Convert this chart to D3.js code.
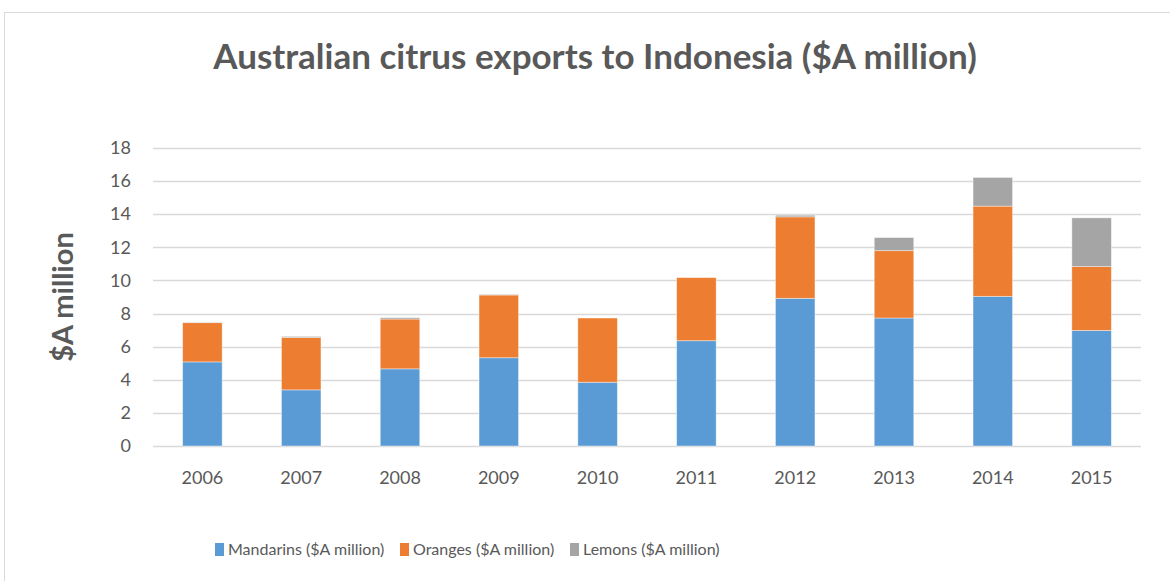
<!DOCTYPE html>
<html>
<head>
<meta charset="utf-8">
<script src="https://cdn.jsdelivr.net/npm/d3@7"></script>
<style>
  body { margin: 0; background: #fff; }
  text { font-family: "Lato", "Open Sans", sans-serif; fill: #595959; }
</style>
</head>
<body>
<script>
// data
var years = ["2006", "2007", "2008", "2009", "2010", "2011", "2012", "2013", "2014", "2015"];
var mandarins = [5.08, 3.39, 4.66, 5.33, 3.85, 6.36, 8.92, 7.73, 9.04, 6.98];
var oranges = [2.37, 3.17, 3.01, 3.79, 3.88, 3.81, 4.92, 4.07, 5.45, 3.86];
var lemons = [0.02, 0.06, 0.08, 0.04, 0.0, 0.0, 0.1, 0.79, 1.73, 2.94];
var seriesNames = ["Mandarins ($A million)", "Oranges ($A million)", "Lemons ($A million)"];
var colors = ["#5b9bd5", "#ed7d31", "#a5a5a5"];
var yTicks = [0, 2, 4, 6, 8, 10, 12, 14, 16, 18];

var W = 1170, H = 581;
var svg = d3.select("body").append("svg")
    .attr("width", W)
    .attr("height", H);

// outer chart border
svg.append("rect")
    .attr("x", 4.5).attr("y", 12.5)
    .attr("width", W).attr("height", H)
    .style("fill", "#fff")
    .style("stroke", "#d9d9d9");

var plotLeft = 153, plotRight = 1141, plotTop = 148, plotBottom = 446;

var x = d3.scaleBand().domain(years).range([plotLeft, plotRight]).paddingInner(0.6).paddingOuter(0.3);
var y = d3.scaleLinear().domain([0, 18]).range([plotBottom, plotTop]);

// gridlines
svg.append("g")
    .selectAll("line")
    .data(yTicks)
    .enter().append("line")
    .attr("x1", plotLeft).attr("x2", plotRight)
    .attr("y1", function (d) { return Math.round(y(d)) + 0.5; })
    .attr("y2", function (d) { return Math.round(y(d)) + 0.5; })
    .style("stroke", "#d9d9d9")
    .style("stroke-width", 1.3);

// stacked bars
var rows = years.map(function (yr, i) {
    return { year: yr, m: mandarins[i], o: oranges[i], l: lemons[i] };
});
var stack = d3.stack().keys(["m", "o", "l"]);
var layers = stack(rows);

svg.append("g")
    .selectAll("g")
    .data(layers)
    .enter().append("g")
    .style("fill", function (d, i) { return colors[i]; })
    .selectAll("rect")
    .data(function (d) { return d; })
    .enter().append("rect")
    .attr("x", function (d) { return x(d.data.year); })
    .attr("width", x.bandwidth())
    .attr("y", function (d) { return y(d[1]); })
    .attr("height", function (d) { return Math.max(0, y(d[0]) - y(d[1])); })
    .style("stroke", "#ffffff")
    .style("stroke-opacity", 0.5)
    .style("stroke-width", 0.8);

// y axis labels
var yAxis = svg.append("g")
    .attr("transform", "translate(" + plotLeft + ",0)")
    .call(d3.axisLeft(y).tickValues(yTicks).tickSize(0).tickPadding(22));
yAxis.select(".domain").remove();
yAxis.selectAll("text")
    .style("font-size", "18px")
    .style("fill", "#595959")
    .style("font-family", "Lato, sans-serif");

// x axis labels
var xAxis = svg.append("g")
    .attr("transform", "translate(0," + plotBottom + ")")
    .call(d3.axisBottom(x).tickSize(0).tickPadding(25));
xAxis.select(".domain").remove();
xAxis.selectAll("text")
    .style("font-size", "18px")
    .style("fill", "#595959")
    .style("font-family", "Lato, sans-serif");

// title
svg.append("text")
    .attr("x", 595).attr("y", 69)
    .attr("text-anchor", "middle")
    .style("font-size", "35px")
    .style("font-weight", "bold")
    .text("Australian citrus exports to Indonesia ($A million)");

// y axis title
svg.append("text")
    .attr("transform", "translate(73,297) rotate(-90)")
    .attr("text-anchor", "middle")
    .style("font-size", "29px")
    .style("font-weight", "bold")
    .text("$A million");

// legend
var legendX = [215, 400, 570];
var legend = svg.append("g")
    .selectAll("g")
    .data(seriesNames)
    .enter().append("g")
    .attr("transform", function (d, i) { return "translate(" + legendX[i] + ",543)"; });

legend.append("rect")
    .attr("width", 9).attr("height", 13)
    .style("fill", function (d, i) { return colors[i]; });

legend.append("text")
    .attr("x", 13).attr("y", 12)
    .style("font-size", "16px")
    .text(function (d) { return d; });
</script>
</body>
</html>
